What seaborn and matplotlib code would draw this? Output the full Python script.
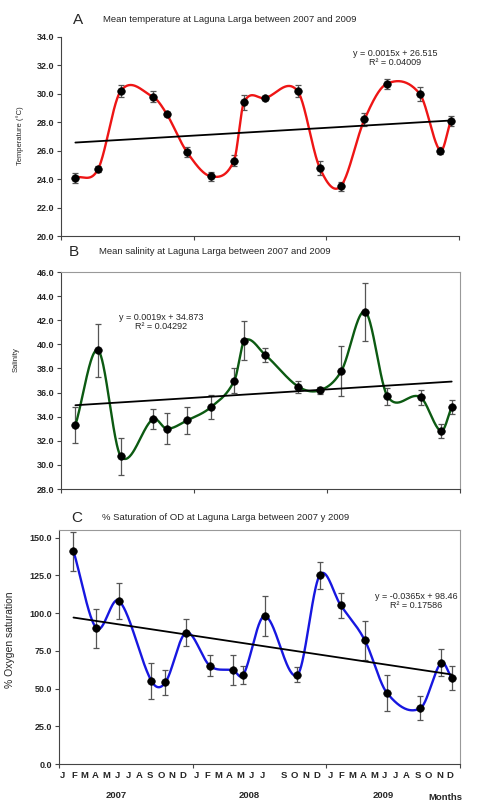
#!/usr/bin/env python3
"""
Laguna Larga monthly means 2007-2009: temperature, salinity, % O2 saturation
"""
import numpy as np
import pandas as pd
import seaborn as sns
import matplotlib.pyplot as plt

# sampling dates, in months since Jan 2007
sample_month = [1.3, 3.35, 5.4, 8.3, 9.55, 11.4, 13.55, 15.65, 16.55, 18.45,
                21.4, 23.4, 25.3, 27.45, 29.45, 32.45, 34.3, 35.25]

temp_mean = [24.1, 24.7, 30.2, 29.8, 28.6, 25.9, 24.2, 25.3, 29.4, 29.7,
             30.2, 24.8, 23.5, 28.2, 30.7, 30.0, 26.0, 28.1]
temp_err = [0.35, 0.2, 0.45, 0.4, 0.15, 0.35, 0.3, 0.4, 0.55, 0.15,
            0.4, 0.5, 0.3, 0.45, 0.35, 0.5, 0.25, 0.35]

sal_mean = [33.3, 39.5, 30.7, 33.8, 33.0, 33.7, 34.8, 37.0, 40.3, 39.1,
            36.5, 36.2, 37.8, 42.7, 35.7, 35.6, 32.8, 34.8]
sal_err = [1.5, 2.2, 1.5, 0.8, 1.3, 1.1, 1.0, 1.0, 1.6, 0.6,
           0.5, 0.3, 2.1, 2.4, 0.7, 0.6, 0.6, 0.6]

oxy_mean = [141, 90, 108, 55, 54, 87, 65, 62, 59, 98,
            59, 125, 105, 82, 47, 37, 67, 57]
oxy_err = [13, 13, 12, 12, 8, 9, 7, 10, 6, 13,
           5, 9, 8, 13, 12, 8, 9, 8]

# linear fits as printed on the chart (x in days)
temp_fit = (0.0015, 26.515, "y = 0.0015x + 26.515\nR² = 0.04009")
sal_fit = (0.0019, 34.873, "y = 0.0019x + 34.873\nR² = 0.04292")
oxy_fit = (-0.0365, 98.46, "y = -0.0365x + 98.46\nR² = 0.17586")

month_letters = ["J", "F", "M", "A", "M", "J", "J", "A", "S", "O", "N", "D"]
years = ["2007", "2008", "2009"]

W, H = 478, 810


def smooth_curve(x, y, per_seg=40):
    # cubic hermite through the points, catmull-rom style tangents
    x = np.asarray(x, float)
    y = np.asarray(y, float)
    m = np.empty_like(y)
    m[1:-1] = (y[2:] - y[:-2]) / (x[2:] - x[:-2])
    m[0] = (y[1] - y[0]) / (x[1] - x[0])
    m[-1] = (y[-1] - y[-2]) / (x[-1] - x[-2])
    xs, ys = [], []
    for i in range(len(x) - 1):
        h = x[i + 1] - x[i]
        t = np.linspace(0, 1, per_seg, endpoint=False)
        h00 = 2 * t**3 - 3 * t**2 + 1
        h10 = t**3 - 2 * t**2 + t
        h01 = -2 * t**3 + 3 * t**2
        h11 = t**3 - t**2
        xs.append(x[i] + t * h)
        ys.append(h00 * y[i] + h10 * h * m[i] + h01 * y[i + 1] + h11 * h * m[i + 1])
    xs.append([x[-1]])
    ys.append([y[-1]])
    return np.concatenate(xs), np.concatenate(ys)


def add_axes(left, right, top, bottom):
    return fig.add_axes([left / W, 1 - bottom / H, (right - left) / W, (bottom - top) / H])


def draw_panel(ax, mean, err, color, fit, ylim, yticks, box):
    df = pd.DataFrame({"month": sample_month, "value": mean})
    xs, ys = smooth_curve(sample_month, mean)
    sns.lineplot(x=xs, y=ys, ax=ax, color=color, lw=1.7, sort=False,
                 estimator=None, zorder=2)
    slope, icpt, _ = fit
    xe = np.array([sample_month[0], sample_month[-1]])
    ax.plot(xe, icpt + slope * xe * 30.44, color="black", lw=1.3, zorder=3)
    ax.errorbar(sample_month, mean, yerr=err, fmt="none", ecolor="#555555",
                elinewidth=0.9, capsize=2, capthick=0.9, zorder=1)
    sns.scatterplot(data=df, x="month", y="value", ax=ax, color="black",
                    s=30, edgecolor="black", zorder=4)
    ax.set_xlim(0, 36)
    ax.set_ylim(*ylim)
    ax.set_yticks(yticks)
    ax.set_yticklabels([f"{v:.1f}" for v in yticks], fontweight="bold", fontsize=6.5)
    ax.set_xticks([0, 12, 24, 36])
    ax.set_xticklabels([])
    ax.tick_params(axis="both", direction="out", length=3, width=0.8, color="#444444", pad=2)
    ax.set_xlabel("")
    ax.set_ylabel("")
    for s in ["left", "bottom"]:
        ax.spines[s].set_color("#444444")
        ax.spines[s].set_linewidth(0.8)
    for s in ["top", "right"]:
        ax.spines[s].set_visible(box)
        ax.spines[s].set_color("#999999")
        ax.spines[s].set_linewidth(0.8)


sns.set_style("ticks")
plt.rcParams["font.family"] = ["Liberation Sans", "DejaVu Sans"]

fig = plt.figure(figsize=(W / 100, H / 100), dpi=100)

axA = add_axes(61, 459, 37, 236)
draw_panel(axA, temp_mean, temp_err, "#ee1515", temp_fit, (20, 34),
           np.arange(20, 34.1, 2), False)
axB = add_axes(61, 460, 272, 489)
draw_panel(axB, sal_mean, sal_err, "#0c5a12", sal_fit, (28, 46),
           np.arange(28, 46.1, 2), True)
axC = add_axes(59, 460, 530, 764)
draw_panel(axC, oxy_mean, oxy_err, "#1717e0", oxy_fit, (0, 155),
           np.arange(0, 150.1, 25), True)

# equations
axA.text(0.84, 0.895, temp_fit[2], transform=axA.transAxes, ha="center",
         va="center", fontsize=6.5, linespacing=1.0)
axB.text(0.25, 0.77, sal_fit[2], transform=axB.transAxes, ha="center",
         va="center", fontsize=6.5, linespacing=1.0)
axC.text(0.89, 0.695, oxy_fit[2], transform=axC.transAxes, ha="center",
         va="center", fontsize=6.5, linespacing=1.0)

# panel letters and titles
for letter, title, lx, ly in [
    ("A", "Mean temperature at Laguna Larga between 2007 and 2009", 78, 20),
    ("B", "Mean salinity at Laguna Larga between 2007 and 2009", 74, 252),
    ("C", "% Saturation of OD at Laguna Larga between 2007 y 2009", 77, 518),
]:
    fig.text(lx / W, 1 - ly / H, letter, fontsize=11, ha="center", va="center")
    fig.text((lx + 25) / W, 1 - (ly - 1) / H, title, fontsize=6.8, ha="left", va="center")

# y labels
fig.text(20 / W, 1 - 136 / H, "Temperature (°C)", rotation=90, fontsize=5.5,
         ha="center", va="center")
fig.text(16 / W, 1 - 360 / H, "Salinity", rotation=90, fontsize=5.5,
         ha="center", va="center")
fig.text(10 / W, 1 - 640 / H, "% Oxygen saturation", rotation=90, fontsize=7.5,
         ha="center", va="center")

# month letters under panel C
for yi, year in enumerate(years):
    for mi, m in enumerate(month_letters):
        if year == "2008" and mi == 7:
            continue
        axC.text(yi * 12 + 0.35 + mi * 0.98, -0.05, m, transform=axC.get_xaxis_transform(),
                 ha="center", va="center", fontsize=6.8, fontweight="bold")
    axC.text(yi * 12 + 5.1, -0.135, year, transform=axC.get_xaxis_transform(),
             ha="center", va="center", fontsize=6.8, fontweight="bold")
axC.text(34.7, -0.145, "Months", transform=axC.get_xaxis_transform(),
         ha="center", va="center", fontsize=6.8, fontweight="bold")

fig.savefig("out.png", dpi=100)
